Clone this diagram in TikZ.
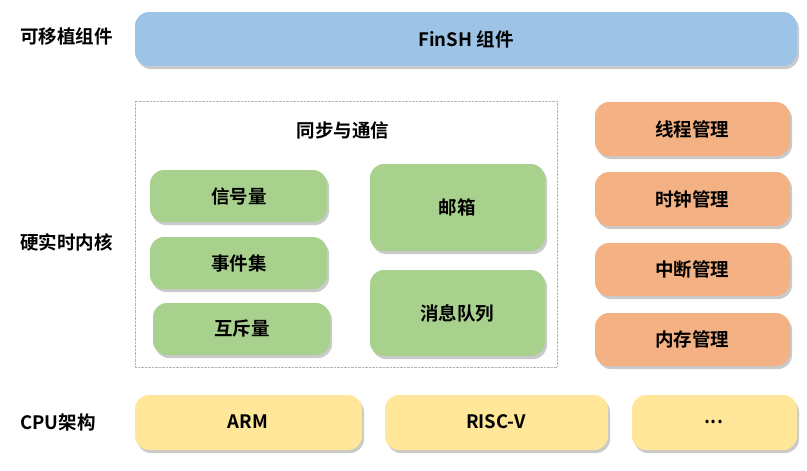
\documentclass[tikz,border=0pt]{standalone}
\usepackage{fontspec}
\setmainfont{Noto Sans CJK SC}[BoldFont={Noto Sans CJK SC Bold}]
\usetikzlibrary{shadows}
\definecolor{cblue}{HTML}{9DC3E6}
\definecolor{cgreen}{HTML}{A9D18E}
\definecolor{corange}{HTML}{F4B183}
\definecolor{cyellow}{HTML}{FFE699}
\tikzset{
  blk/.style={rounded corners=14pt, draw=none, drop shadow={shadow xshift=2pt, shadow yshift=-3pt, opacity=0.35, fill=black!60}},
  lbl/.style={font=\bfseries\fontsize{18.5}{20}\selectfont, text=black, anchor=west, inner sep=0pt},
  btxt/.style={font=\bfseries\fontsize{18.5}{20}\selectfont, text=black},
}
\begin{document}
\begin{tikzpicture}[x=1pt,y=-1pt]
\useasboundingbox (0,0) rectangle (807,471);
% top layer
\path[blk, fill=cblue] (135,12) rectangle (797,66);
\node[btxt] (finsh) at (466,39) {FinSH 组件};
\node[lbl] (l1) at (20,36) {可移植组件};
% kernel
\draw[densely dotted, draw=black!30] (135,101) rectangle (557,367);
\node[btxt] (sync) at (343,130) {同步与通信};
\path[blk, fill=cgreen] (150,170) rectangle (327,222);
\node[btxt] (sem) at (239,196) {信号量};
\path[blk, fill=cgreen] (150,237) rectangle (327,289);
\node[btxt] (evt) at (239,263) {事件集};
\path[blk, fill=cgreen] (153,303) rectangle (330,355);
\node[btxt] (mtx) at (242,329) {互斥量};
\path[blk, fill=cgreen] (370,164) rectangle (545,251);
\node[btxt] (mb) at (457,207) {邮箱};
\path[blk, fill=cgreen] (370,270) rectangle (545,356);
\node[btxt] (mq) at (457,313) {消息队列};
\path[blk, fill=corange] (595,102) rectangle (790,156);
\node[btxt] (th) at (692,129) {线程管理};
\path[blk, fill=corange] (595,172) rectangle (790,226);
\node[btxt] (clk) at (692,199) {时钟管理};
\path[blk, fill=corange] (595,243) rectangle (790,296);
\node[btxt] (irq) at (692,269) {中断管理};
\path[blk, fill=corange] (595,313) rectangle (790,366);
\node[btxt] (mem) at (692,339) {内存管理};
\node[lbl] (l2) at (20,242) {硬实时内核};
% cpu
\path[blk, fill=cyellow] (135,395) rectangle (362,450);
\node[btxt] (arm) at (248,422) {ARM};
\path[blk, fill=cyellow] (385,395) rectangle (608,450);
\node[btxt] (rv) at (496,422) {RISC-V};
\path[blk, fill=cyellow] (632,395) rectangle (797,450);
\node[btxt] (dots) at (714,422) {...};
\node[lbl] (l3) at (20,422) {CPU架构};
\end{tikzpicture}
\end{document}
